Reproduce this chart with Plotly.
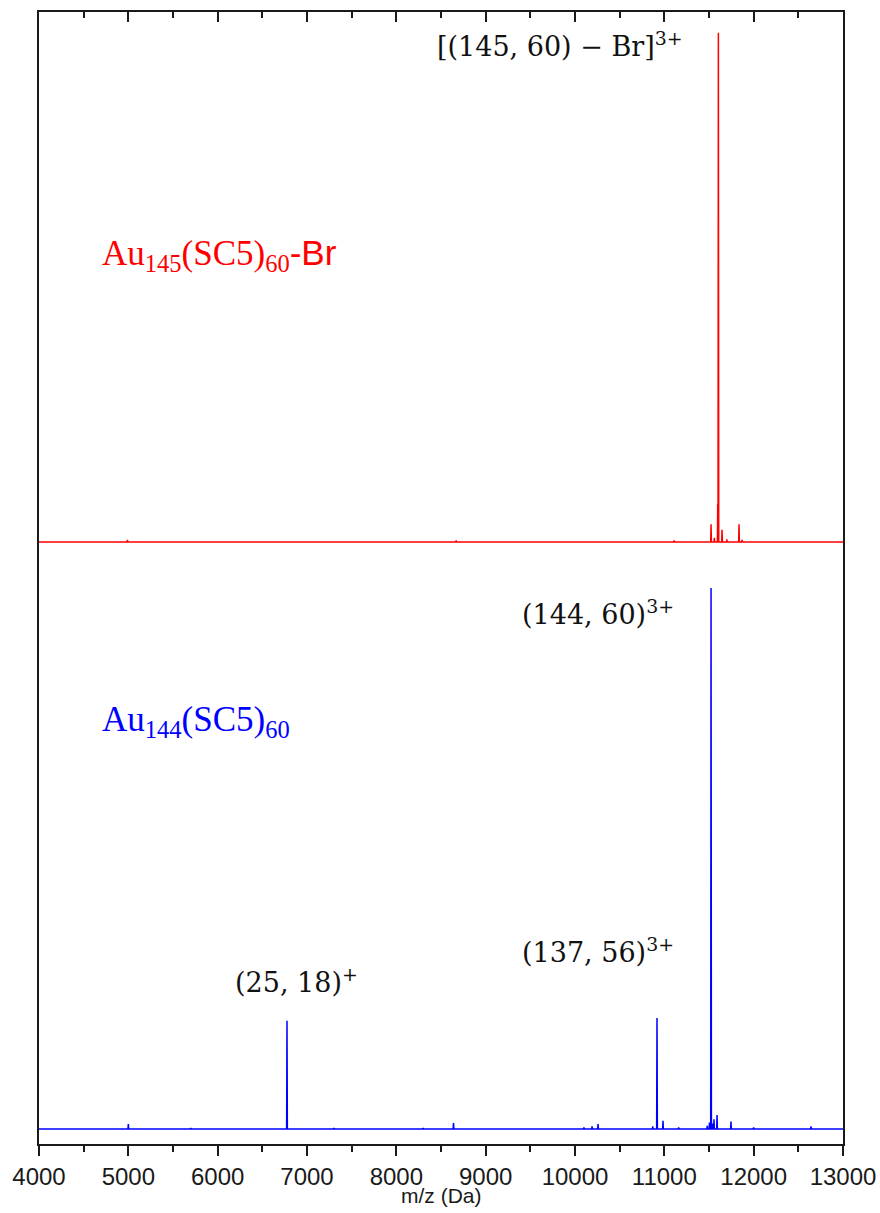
import plotly.graph_objects as go

# Peak lists (m/z in Da, relative intensity in %)
red_mz = [4990, 8670, 11110, 11523, 11560, 11598, 11605, 11646, 11700, 11836, 11870]
red_int = [0.4, 0.3, 0.3, 3.5, 0.8, 7.5, 100.0, 2.4, 0.5, 3.5, 0.4]

blue_mz = [5000, 5700, 6776, 7300, 8300, 8640, 10100, 10191, 10258, 10870, 10918,
           10985, 11160, 11480, 11505, 11523, 11540, 11556, 11590, 11746, 12000, 12642]
blue_int = [0.9, 0.2, 20.0, 0.2, 0.2, 1.1, 0.3, 0.5, 0.9, 0.5, 20.5,
            1.5, 0.3, 0.6, 1.2, 100.0, 1.0, 1.8, 2.6, 1.4, 0.3, 0.5]

x_ticks = [4000, 5000, 6000, 7000, 8000, 9000, 10000, 11000, 12000, 13000]
x_min, x_max = 4000, 13000


def stick_trace(mz, inten, half_width=4.0):
    """Turn a peak list into a continuous spectrum line with a flat baseline."""
    xs, ys = [x_min], [0.0]
    for m, h in sorted(zip(mz, inten)):
        xs += [m - half_width, m, m + half_width]
        ys += [0.0, h, 0.0]
    xs.append(x_max)
    ys.append(0.0)
    return xs, ys


rx, ry = stick_trace(red_mz, red_int)
bx, by = stick_trace(blue_mz, blue_int)

fig = go.Figure()
fig.add_trace(go.Scatter(x=bx, y=by, mode="lines", line=dict(color="#0000ff", width=1.5),
                         xaxis="x", yaxis="y", hoverinfo="skip", showlegend=False))
fig.add_trace(go.Scatter(x=rx, y=ry, mode="lines", line=dict(color="#ff0000", width=1.5),
                         xaxis="x2", yaxis="y2", hoverinfo="skip", showlegend=False))

W, H = 880, 1213
L, R, T, B = 39, 37, 12, 69
split = 0.5

ink = "#1a1a1a"
axis_font = dict(family="Liberation Sans, Arial, sans-serif", size=24, color=ink)

fig.update_layout(
    width=W, height=H,
    margin=dict(l=L, r=R, t=T, b=B, autoexpand=False),
    paper_bgcolor="white", plot_bgcolor="white",
    showlegend=False,
    xaxis=dict(
        domain=[0, 1], anchor="y", side="bottom", range=[x_min, x_max], automargin=False,
        tickvals=x_ticks, ticktext=[str(v) for v in x_ticks],
        ticks="outside", ticklen=10, tickwidth=1.5, tickcolor=ink,
        minor=dict(dtick=500, tick0=4000, ticks="outside", ticklen=6, tickwidth=1.5, tickcolor=ink),
        showline=True, linecolor=ink, linewidth=1.5, mirror=False,
        showgrid=False, zeroline=False, tickfont=axis_font,
    ),
    xaxis2=dict(
        domain=[0, 1], anchor="y2", side="top", range=[x_min, x_max], matches="x", automargin=False,
        tickvals=x_ticks, showticklabels=False,
        ticks="inside", ticklen=10, tickwidth=1.5, tickcolor=ink,
        minor=dict(dtick=500, tick0=4000, ticks="inside", ticklen=6, tickwidth=1.5, tickcolor=ink),
        showline=True, linecolor=ink, linewidth=1.5, mirror=False,
        showgrid=False, zeroline=False,
    ),
    yaxis=dict(
        domain=[0, split], range=[-2.77, 101.85], anchor="x", automargin=False,
        showticklabels=False, ticks="", showgrid=False, zeroline=False,
        showline=True, linecolor=ink, linewidth=1.5, mirror=True,
    ),
    yaxis2=dict(
        domain=[split, 1], range=[-7.07, 104.1], anchor="x2", automargin=False,
        showticklabels=False, ticks="", showgrid=False, zeroline=False,
        showline=True, linecolor=ink, linewidth=1.5, mirror=True,
    ),
)

plot_w = W - L - R
plot_h = H - T - B


def px_to_paper(px, py):
    return (px - L) / plot_w, (H - B - py) / plot_h


math_font = dict(family="DejaVu Serif, serif", size=27, color="#111111")
formula_font_red = dict(family="Liberation Serif, Times New Roman, serif", size=35, color="#ff0000")
formula_font_blue = dict(family="Liberation Serif, Times New Roman, serif", size=35, color="#0000ff")

labels = [
    ("[(145, 60) − Br]<sup>3+</sup>", 435, 45, math_font),
    ("(144, 60)<sup>3+</sup>", 520, 612, math_font),
    ("(137, 56)<sup>3+</sup>", 520, 950, math_font),
    ("(25, 18)<sup>+</sup>", 233, 980, math_font),
    ("Au<sub>145</sub>(SC5)<sub>60</sub><span style='font-family:Liberation Sans'>-Br</span>", 100, 255, formula_font_red),
    ("Au<sub>144</sub>(SC5)<sub>60</sub>", 100, 721, formula_font_blue),
]

for text, px, py, font in labels:
    xp, yp = px_to_paper(px, py)
    fig.add_annotation(text=text, x=xp, y=yp, xref="paper", yref="paper",
                       xanchor="left", yanchor="middle", showarrow=False, font=font)

# x-axis title
tx, ty = px_to_paper(441, 1195)
fig.add_annotation(text="m/z (Da)", x=tx, y=ty, xref="paper", yref="paper",
                   xanchor="center", yanchor="middle", showarrow=False,
                   font=dict(family="Liberation Sans, Arial, sans-serif", size=21, color=ink))

fig.write_html("out.html")
